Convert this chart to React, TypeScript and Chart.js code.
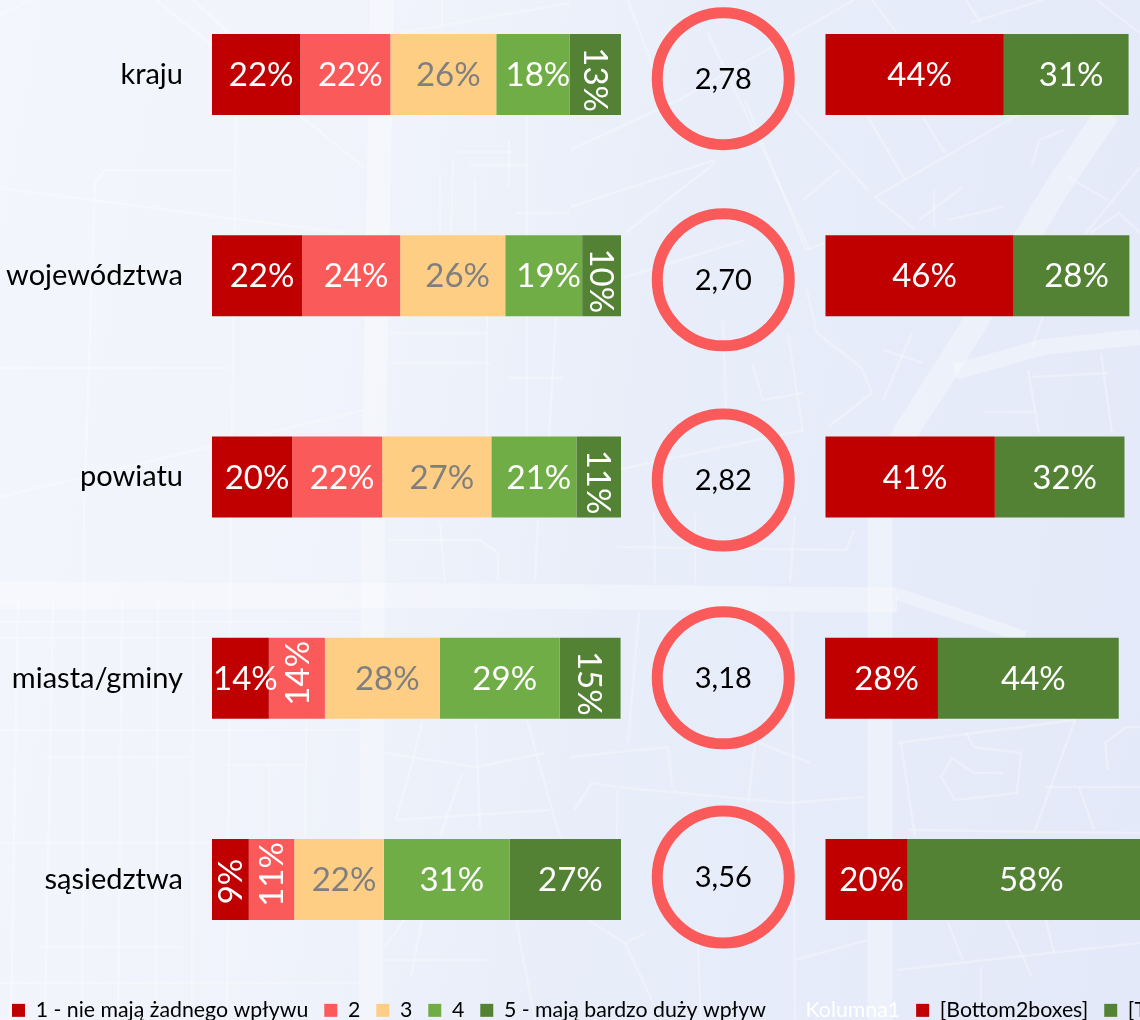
import React, { useEffect, useRef } from "react";
import { Chart, registerables } from "chart.js";

Chart.register(...registerables);

const categories = ["kraju", "województwa", "powiatu", "miasta/gminy", "sąsiedztwa"];
const seriesNames = ["1 - nie mają żadnego wpływu", "2", "3", "4", "5 - mają bardzo duży wpływ"];
const series1 = [21.6, 22.0, 19.6, 13.9, 9.0];
const series2 = [22.0, 24.0, 22.0, 13.7, 11.1];
const series3 = [25.9, 25.7, 26.7, 28.1, 21.9];
const series4 = [17.9, 18.8, 20.8, 29.3, 30.8];
const series5 = [12.6, 9.5, 10.9, 14.9, 27.2];
const spacer = [50, 50, 50, 50, 50];
const bottom2 = [43.6, 46.0, 41.4, 27.6, 20.1];
const top2 = [30.5, 28.3, 31.7, 44.2, 58.0];
const averages = [2.78, 2.7, 2.82, 3.18, 3.56];
const circleRowOffsets = [0.02, 0.02, 0.015, -0.002, -0.012];
const circleCentreX = 125;
const seriesColors = ["#C00000", "#FA5A5A", "#FFCE85", "#70AD47", "#548235"];
const labelColors = ["#FFFFFF", "#FFFFFF", "#7F7F7F", "#FFFFFF", "#FFFFFF"];
// per series: rows whose label is turned, with its direction in quarter turns
const turnedRows: { row: number; turn: number; shift?: number }[][] = [
  [{ row: 4, turn: -1, shift: -2 }],
  [{ row: 3, turn: -1 }, { row: 4, turn: -1 }],
  [],
  [],
  [{ row: 0, turn: 1 }, { row: 1, turn: 1 }, { row: 2, turn: 1 }, { row: 3, turn: 1 }],
];

const FONT = "Lato, Carlito, Calibri, sans-serif";

const thinRoads: number[][][] = [
  [[0,188],[345,233]], [[233,170],[105,170],[95,183],[84,510],[82,1020]], [[236,115],[231,510],[227,1020]],
  [[156,0],[364,167]], [[193,0],[229,33]], [[0,368],[229,368]], [[0,497],[364,410]], [[0,15],[30,0]],
  [[400,33],[570,3]], [[458,152],[513,152]], [[509,140],[509,187]], [[469,165],[527,165]], [[453,160],[451,233]],
  [[440,173],[440,233]], [[475,180],[475,233]], [[516,213],[570,213]], [[389,333],[487,333]], [[389,363],[491,363]],
  [[487,317],[487,437]], [[556,317],[549,437]], [[509,378],[562,378]], [[527,117],[527,510]], [[442,0],[442,27]],
  [[570,150],[679,100],[854,0]], [[570,207],[715,160]], [[628,0],[654,70]], [[708,33],[810,250]], [[745,100],[806,250]],
  [[625,233],[715,163]], [[806,250],[825,243]], [[803,200],[839,170]], [[795,110],[868,190]], [[875,197],[1021,113]],
  [[875,197],[915,230]], [[868,117],[905,180]], [[923,117],[945,153]], [[1068,177],[1108,200]], [[1086,233],[1140,167]],
  [[970,23],[1043,0]], [[872,0],[897,33]], [[966,0],[981,23]], [[1097,0],[1140,33]],
  [[806,287],[817,333],[861,367],[872,393],[828,427]], [[883,350],[923,363]], [[912,333],[883,400]],
  [[723,320],[726,410]], [[788,333],[803,433]], [[752,363],[763,400],[803,393]], [[1028,370],[1039,433]],
  [[1032,377],[1108,373]], [[1101,353],[1112,433]], [[985,412],[1035,412]], [[1043,317],[1032,347]],
  [[625,277],[745,240]], [[919,220],[963,187]], [[934,190],[934,227]], [[948,220],[1003,207]],
  [[1032,167],[1039,140],[1064,130]], [[1090,233],[1119,213],[1140,233]], [[617,470],[803,430]],
  [[0,608],[360,608]], [[0,622],[360,622]], [[0,638],[360,638]], [[0,730],[360,730]], [[47,757],[189,757]],
  [[0,843],[360,843]], [[40,947],[182,947]], [[0,983],[360,983]], [[18,600],[11,1020]], [[53,600],[45,1020]],
  [[122,600],[118,1020]], [[158,600],[156,1020]], [[193,600],[192,1020]], [[307,650],[305,837]], [[269,763],[269,837]],
  [[227,765],[304,765]], [[385,753],[476,767],[545,753]], [[411,767],[396,820],[549,810]], [[422,723],[411,767]],
  [[476,723],[480,830]], [[462,773],[440,837]], [[527,720],[560,837]], [[387,540],[480,540],[498,553],[498,580]],
  [[440,523],[445,582]], [[538,520],[535,580]], [[404,920],[385,947]], [[422,920],[411,977]], [[385,960],[487,960]],
  [[516,920],[535,1020]], [[617,547],[846,550],[854,530]], [[654,513],[655,583]], [[695,513],[695,583]], [[795,517],[790,583]],
  [[570,757],[668,747],[672,787]], [[574,810],[592,783],[617,787],[788,803],[865,797]], [[617,790],[617,843]],
  [[759,743],[810,763]], [[755,743],[748,803]], [[792,613],[795,1020]], [[639,613],[628,743]], [[795,960],[868,940]],
  [[588,920],[625,943],[646,933]], [[625,943],[661,1020]], [[697,927],[701,1020]], [[897,743],[1075,720]], [[901,743],[915,837]],
  [[1075,720],[1035,830]], [[1079,787],[1094,830]], [[908,830],[1140,833]], [[1046,787],[1140,787]],
  [[966,733],[974,747],[1021,753],[1017,793],[955,800],[941,777],[952,758],[974,773],[1003,773]],
  [[1108,770],[1105,743],[1126,727],[1140,727]], [[897,970],[1140,943]], [[948,923],[963,960]], [[1006,920],[1032,977]],
  [[981,967],[981,1020]], [[1046,920],[1054,953]],
];
const wideRoads: { w: number; p: number[][] }[] = [
  { w: 24, p: [[382,0],[373,510],[371,1020]] },
  { w: 25, p: [[0,594],[500,596],[897,600]] },
  { w: 12, p: [[897,594],[1025,637]] },
  { w: 25, p: [[880,1020],[880,510],[905,433],[952,360],[1060,183],[1108,113]] },
  { w: 16, p: [[955,372],[1043,347],[1140,337]] },
];

const toPoints = (p: number[][]) => p.map((q) => q.join(",")).join(" ");

const fmtPl = (v: number) => v.toFixed(2).replace(".", ",");

const barLabels = {
  id: "barLabels",
  afterDatasetsDraw(chart: any) {
    const ctx = chart.ctx;
    chart.data.datasets.forEach((ds: any, di: number) => {
      if (!ds.labelColor) return;
      chart.getDatasetMeta(di).data.forEach((el: any, i: number) => {
        const c = el.getCenterPoint();
        const turned = (ds.turnedRows || []).find((t: any) => t.row === i);
        ctx.save();
        ctx.font = `33px ${FONT}`;
        ctx.fillStyle = ds.labelColor;
        ctx.textAlign = "center";
        ctx.textBaseline = "middle";
        ctx.translate(c.x, c.y);
        if (turned) ctx.rotate((turned.turn * Math.PI) / 2);
        ctx.fillText(`${Math.round(ds.data[i])}%`, turned && turned.shift !== undefined ? turned.shift : 5, 1);
        ctx.restore();
      });
    });
    // mean score in the centre of each ring
    const ringIndex = chart.data.datasets.findIndex((d: any) => d.type === "scatter");
    chart.getDatasetMeta(ringIndex).data.forEach((pt: any, i: number) => {
      ctx.save();
      ctx.font = `29px ${FONT}`;
      ctx.fillStyle = "#000000";
      ctx.textAlign = "center";
      ctx.textBaseline = "middle";
      ctx.fillText(fmtPl(averages[i]), pt.x, pt.y + 1);
      ctx.restore();
    });
  },
};

export default function App() {
  const ref = useRef<HTMLCanvasElement>(null);
  useEffect(() => {
    document.body.style.margin = "0";
    const bar = (label: string, data: number[], color: string, extra: any = {}) => ({
      type: "bar",
      label,
      data,
      backgroundColor: color,
      borderWidth: 0,
      grouped: false,
      maxBarThickness: 81,
      xAxisID: "x",
      yAxisID: "y",
      ...extra,
    });
    const allSeries = [series1, series2, series3, series4, series5];
    const xMax = 1144 / 4.09;
    const chart = new Chart(ref.current!, {
      type: "bar",
      data: {
        labels: categories,
        datasets: [
          {
            type: "scatter",
            label: "Średnia",
            data: averages.map((_, i) => ({ x: circleCentreX, y: i + circleRowOffsets[i] })),
            xAxisID: "xc",
            yAxisID: "yc",
            showLine: false,
            pointRadius: 66,
            pointHoverRadius: 66,
            pointBorderWidth: 11,
            pointBorderColor: "#FA5A5A",
            pointBackgroundColor: "rgba(0,0,0,0)",
            clip: false,
          },
          ...allSeries.map((d, s) =>
            bar(seriesNames[s], d, seriesColors[s], { labelColor: labelColors[s], turnedRows: turnedRows[s] })
          ),
          bar("Kolumna1", spacer, "rgba(0,0,0,0)", { legendText: "#FFFFFF" }),
          bar("[Bottom2boxes]", bottom2, "#C00000", { labelColor: "#FFFFFF" }),
          bar("[Top2boxes]", top2, "#548235", { labelColor: "#FFFFFF" }),
        ] as any,
      },
      options: {
        indexAxis: "y",
        responsive: false,
        animation: false,
        layout: { autoPadding: false, padding: { top: 18, left: 0, right: 0, bottom: 0 } },
        scales: {
          x: { type: "linear", stacked: true, min: 0, max: xMax, display: false },
          xc: { type: "linear", axis: "x", min: 0, max: xMax, offset: false, display: false },
          yc: { type: "linear", axis: "y", min: -0.5, max: 4.5, offset: false, reverse: true, display: false },
          y: {
            type: "category",
            stacked: true,
            grid: { display: false, drawTicks: true, tickLength: 29 },
            border: { display: false },
            ticks: { color: "#000000", padding: 0, font: { family: FONT, size: 29 } },
            afterFit(scale: any) {
              scale.width = 216;
            },
          },
        },
        plugins: {
          tooltip: { enabled: false },
          legend: {
            position: "bottom",
            align: "start",
            onClick: () => {},
            title: { display: true, text: "", font: { size: 3 }, padding: 0 },
            labels: {
              boxWidth: 13,
              boxHeight: 13,
              padding: 16,
              font: { family: FONT, size: 21.3 },
              color: "#000000",
              filter: (item: any, data: any) => data.datasets[item.datasetIndex].type !== "scatter",
              generateLabels(c: any) {
                const items = Chart.defaults.plugins.legend.labels.generateLabels(c);
                items.forEach((it: any) => {
                  const t = c.data.datasets[it.datasetIndex].legendText;
                  it.lineWidth = 0;
                  if (t) it.fontColor = t;
                });
                return items;
              },
            },
          },
        },
      } as any,
      plugins: [barLabels],
    });
    return () => chart.destroy();
  }, []);

  return (
    <div
      style={{
        position: "relative",
        width: 1140,
        height: 1020,
        overflow: "hidden",
        background: "linear-gradient(100deg, #F3F6FC 0%, #F0F3FB 32%, #E7EDF9 58%, #E3E9F8 100%)",
      }}
    >
      <svg width={1140} height={1020} style={{ position: "absolute", left: 0, top: 0 }}>
        <g fill="none" stroke="#FFFFFF" strokeLinejoin="round">
          {wideRoads.map((r, i) => (
            <polyline key={i} points={toPoints(r.p)} strokeWidth={r.w} strokeOpacity={0.32} />
          ))}
          {thinRoads.map((p, i) => (
            <polyline key={i} points={toPoints(p)} strokeWidth={2.5} strokeOpacity={0.28} />
          ))}
        </g>
      </svg>
      <canvas
        ref={ref}
        width={1360}
        height={1075}
        style={{ position: "absolute", left: -4, top: -44, width: 1360, height: 1075 }}
      />
    </div>
  );
}
